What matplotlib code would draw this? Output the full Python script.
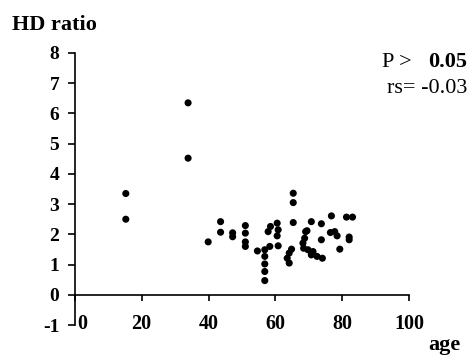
import matplotlib
matplotlib.use("Agg")
import matplotlib.pyplot as plt
import matplotlib.transforms as mtransforms

# age (years) and HD ratio for each subject
age = [15.3, 15.3, 33.9, 33.9,
       39.9, 43.6, 43.6, 47.2, 47.2,
       51.0, 51.0, 51.0, 51.0, 54.6,
       56.8, 56.8, 56.8, 56.8, 56.8,
       58.3, 60.8, 57.8, 58.5, 60.5, 60.8, 60.5,
       65.3, 65.3, 65.3, 64.8, 64.1, 63.5, 64.1,
       70.7, 69.0, 68.7, 68.2, 68.4, 69.7, 70.7, 69.4,
       73.7, 73.7, 72.4, 74.0, 71.2,
       76.7, 76.4, 77.7, 78.4, 79.2,
       81.2, 83.0, 82.0, 82.0]
hd_ratio = [3.35, 2.50, 6.35, 4.52,
            1.75, 2.42, 2.07, 2.05, 1.92,
            2.29, 2.04, 1.60, 1.75, 1.45,
            1.49, 1.27, 1.02, 0.77, 0.47,
            1.60, 1.62, 2.09, 2.26, 2.37, 2.15, 1.95,
            3.36, 3.05, 2.39, 1.51, 1.38, 1.21, 1.05,
            2.42, 2.09, 1.87, 1.71, 1.54, 1.49, 1.32, 2.12,
            2.35, 1.82, 1.27, 1.21, 1.43,
            2.61, 2.06, 2.09, 1.95, 1.51,
            2.57, 2.57, 1.91, 1.82]

x_ticks = [0, 20, 40, 60, 80, 100]
y_ticks = [-1, 0, 1, 2, 3, 4, 5, 6, 7, 8]

plt.rcParams['font.family'] = ['Liberation Serif', 'DejaVu Serif']

fig = plt.figure(figsize=(4.69, 3.57), dpi=100)
ax = fig.add_axes([0.159, 0.0896, 0.714, 0.762])

ax.scatter(age, hd_ratio, s=26, color='black', edgecolors='none', zorder=3)

ax.set_xlim(0, 100)
ax.set_ylim(-1, 8)

for side in ('top', 'right'):
    ax.spines[side].set_visible(False)
ax.spines['bottom'].set_position(('data', 0))
ax.spines['left'].set_linewidth(1.2)
ax.spines['bottom'].set_linewidth(1.2)

ax.set_yticks(y_ticks)
ax.set_yticklabels([str(v) for v in y_ticks], fontsize=14, fontweight='bold')
ax.tick_params(axis='y', direction='out', length=5, width=1.2, pad=6)

ax.set_xticks(x_ticks)
ax.set_xticklabels([str(v) for v in x_ticks], fontsize=14.5, fontweight='bold')
ax.tick_params(axis='x', direction='out', length=4, width=1.2, pad=10)
# nudge the "0" label clear of the vertical axis
lbl0 = ax.get_xticklabels()[0]
lbl0.set_transform(lbl0.get_transform() +
                   mtransforms.ScaledTranslation(8 / 100, 0, fig.dpi_scale_trans))

fig.text(12 / 469, 1 - 30 / 357, 'HD ratio', fontsize=16, fontweight='bold',
         ha='left', va='baseline')
fig.text(428 / 469, 2 / 357, 'age', fontsize=16, fontweight='bold',
         ha='left', va='bottom')

fig.text(382 / 469, 1 - 67 / 357, 'P >', fontsize=16, ha='left', va='baseline')
fig.text(467 / 469, 1 - 67 / 357, '0.05', fontsize=16, fontweight='bold',
         ha='right', va='baseline')
fig.text(467 / 469, 1 - 93 / 357, 'rs= -0.03', fontsize=16, ha='right',
         va='baseline')

fig.savefig('out.png', dpi=100, facecolor='white')
